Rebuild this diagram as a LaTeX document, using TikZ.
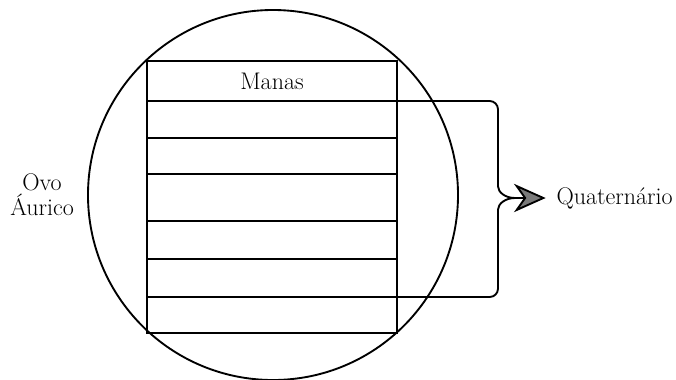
\documentclass[tikz,border=0pt]{standalone}
\usepackage{tikz}
\usetikzlibrary{arrows.meta,positioning}
\definecolor{tipgray}{HTML}{7A7A7A}

\begin{document}
\begin{tikzpicture}[x=0.03cm,y=-0.03cm,font=\fontsize{20.5}{21.3}\selectfont,line width=1.6pt,
  rowbox/.style={draw,minimum width=7.5cm,inner sep=0pt,outer sep=0pt},
  brace/.style={rounded corners=0.25cm},
  arr/.style={-{Stealth[length=0.95cm,width=0.85cm,inset=0.3cm,fill=tipgray]},line join=round,shorten >=0.18cm}]
\useasboundingbox (0,0) rectangle (676,379);
\node[draw,circle,minimum size=11.1cm,inner sep=0pt] (ovo) at (273,195) {};
\foreach \i/\ya/\yb in {1/61/101,2/101/138,3/138/174,4/174/221,5/221/259,6/259/297,7/297/333}
  \node[rowbox,minimum height={(\yb-\ya)*0.03cm}] (r\i) at (272,{(\ya+\yb)/2}) {};
\node (manas) at (r1) {Manas};
\node[align=center,left=0.25cm of ovo] (ovolabel) {Ovo\\Áurico};
% chave e seta
\coordinate (tip) at (515,198);
\node[right=1.1cm of tip] (quat) {Quaternário};
\draw[brace] (r2.north east) -- (498,101) -- (498,178) .. controls (498,192) and (505,198) .. (tip);
\draw[brace] (r7.north east) -- (498,297) -- (498,218) .. controls (498,204) and (505,198) .. (tip);
\draw[arr] (tip) -- (quat.west);
\end{tikzpicture}
\end{document}
